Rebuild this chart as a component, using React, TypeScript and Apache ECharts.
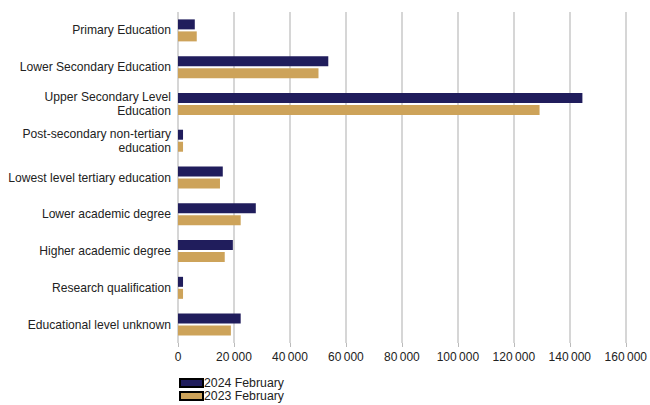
import React, { useEffect, useRef } from "react";
import * as echarts from "echarts";

const categories = [
  "Primary Education",
  "Lower Secondary Education",
  "Upper Secondary Level\nEducation",
  "Post-secondary non-tertiary\neducation",
  "Lowest level tertiary education",
  "Lower academic degree",
  "Higher academic degree",
  "Research qualification",
  "Educational level unknown",
];
const feb2024 = [6000, 53700, 144500, 1800, 16000, 27800, 19600, 1800, 22400];
const feb2023 = [6700, 50200, 129200, 1800, 15000, 22400, 16700, 1800, 18900];

const fmt = (v: number) => {
  const s = String(Math.round(v));
  return s.replace(/\B(?=(\d{3})+(?!\d))/g, "\u2009");
};

export default function App() {
  const ref = useRef<HTMLDivElement>(null);
  useEffect(() => {
    const chart = echarts.init(ref.current!, null, { renderer: "svg" });
    chart.setOption({
      animation: false,
      textStyle: { fontFamily: "Liberation Sans, Arial, sans-serif" },
      grid: { left: 178, right: 22, top: 12, bottom: 62, containLabel: false },
      legend: {
        orient: "vertical",
        left: 179,
        top: 377,
        padding: 0,
        itemWidth: 23,
        itemHeight: 8,
        itemGap: 1,
        icon: "rect",
        itemStyle: { borderColor: "#000", borderWidth: 2 },
        textStyle: { fontSize: 12.3, color: "#222", padding: [0, 0, 0, -4] },
        data: ["2024 February", "2023 February"],
      },
      xAxis: {
        type: "value",
        min: 0,
        max: 160000,
        interval: 20000,
        axisLine: { show: false },
        axisTick: { show: true, length: 4, lineStyle: { color: "#bbb" } },
        splitLine: { show: true, lineStyle: { color: "#c8c8c8", width: 1.5 } },
        axisLabel: {
          color: "#222",
          fontSize: 12,
          margin: 8,
          formatter: (v: number) => fmt(v),
        },
      },
      yAxis: {
        type: "category",
        inverse: true,
        data: categories,
        axisLine: { show: false },
        axisTick: { show: false },
        axisLabel: {
          color: "#222",
          fontSize: 12.1,
          margin: 7,
          lineHeight: 14,
          align: "right",
          padding: [0, 0, 3, 0],
        },
      },
      series: [
        {
          name: "2024 February",
          type: "bar",
          data: feb2024,
          barWidth: 10,
          barGap: "20%",
          itemStyle: { color: "#201D5C" },
        },
        {
          name: "2023 February",
          type: "bar",
          data: feb2023,
          barWidth: 10,
          barGap: "20%",
          itemStyle: { color: "#CDA35A" },
        },
      ],
    });
    return () => chart.dispose();
  }, []);
  return <div ref={ref} style={{ width: 650, height: 405, position: "absolute", left: 0, top: 0 }} />;
}
